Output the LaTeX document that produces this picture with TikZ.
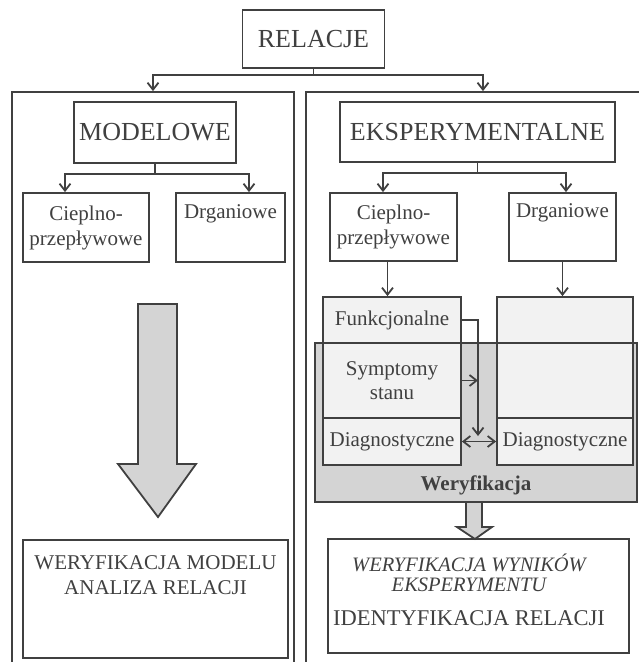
\documentclass[tikz,border=0pt]{standalone}
\usepackage{fontspec}
\setmainfont{Liberation Serif}
\usepackage{xcolor}
\usepackage{tikz}
\usetikzlibrary{arrows.meta}
\definecolor{ink}{gray}{0.25}
\definecolor{shade}{gray}{0.83}
\definecolor{pale}{gray}{0.95}

\begin{document}
\begin{tikzpicture}[x=1pt, y=-1pt, line width=1.8pt, color=ink,
    >={Straight Barb[length=7pt,width=11pt]},
    box/.style={draw, rectangle, inner sep=2pt, align=center, font=\fontsize{21}{25}\selectfont},
    big/.style={font=\fontsize{26}{30}\selectfont},
    inbox/.style={draw, rectangle, fill=pale, inner sep=2pt, align=center, font=\fontsize{21}{24}\selectfont}]
      \useasboundingbox (0,0) rectangle (639,662);

      \node (relacje) [box, big, minimum width=142pt, minimum height=58pt] at (313.5,39) {RELACJE};
      \node (lpanel) [draw, rectangle, minimum width=282pt, minimum height=574pt] at (153,379) {};
      \node (rpanel) [draw, rectangle, minimum width=339pt, minimum height=574pt] at (475.5,379) {};

      % modelowe side
      \node (modelowe) [box, big, minimum width=162pt, minimum height=61pt] at (155,132.5) {MODELOWE};
      \node (cieplL) [box, minimum width=126pt, minimum height=69pt] at (86,227.5) {Cieplno-\\przepływowe};
      \node (drganL) [box, minimum width=109pt, minimum height=69pt] at (230.5,227.5) {Drganiowe\\\strut};
      \draw[fill=shade] (138,304) -- (177,304) -- (177,464) -- (196,464) -- (158,517) -- (118,464) -- (138,464) -- cycle;
      \node (modbox) [draw, rectangle, minimum width=265pt, minimum height=118pt] at (155.5,599) {};
      \node (modtxt) [align=center, font=\fontsize{21}{25}\selectfont] at (155.5,575.5) {WERYFIKACJA MODELU\\ANALIZA RELACJI};

      % eksperymentalne side
      \node (ekspery) [box, big, minimum width=275pt, minimum height=60pt] at (477.5,132) {EKSPERYMENTALNE};
      \node (cieplR) [box, minimum width=127pt, minimum height=68pt] at (393.5,227) {Cieplno-\\przepływowe};
      \node (drganR) [box, minimum width=107pt, minimum height=68pt] at (562.5,227) {Drganiowe\\\strut};

      \node (weryf) [draw, rectangle, fill=shade, minimum width=322pt, minimum height=159pt] at (476,422.5) {};
      \node (weryftxt) [font=\fontsize{21}{25}\selectfont\bfseries] at (476,485) {Weryfikacja};
      \node (funk) [inbox, minimum width=138pt, minimum height=46pt] at (392,320) {Funkcjonalne};
      \node (sympt) [inbox, minimum width=138pt, minimum height=75pt] at (392,380.5) {Symptomy\\stanu};
      \node (diagL) [inbox, minimum width=138pt, minimum height=47pt] at (392,441.5) {Diagnostyczne};
      \node (rtop) [inbox, minimum width=136pt, minimum height=46pt] at (565,320) {};
      \node (rmid) [inbox, minimum width=136pt, minimum height=75pt] at (565,380.5) {};
      \node (diagR) [inbox, minimum width=136pt, minimum height=47pt] at (565,441.5) {Diagnostyczne};
      \coordinate (meet) at (478,436);

      \draw[fill=shade] (466,502) -- (482,502) -- (482,527) -- (492,527) -- (475,539) -- (457,527) -- (466,527) -- cycle;
      \node (expbox) [draw, rectangle, minimum width=301pt, minimum height=114pt] at (478.5,596) {};
      \node (exptxt) [align=center, font=\fontsize{20.5}{20}\selectfont\itshape] at (469,573) {WERYFIKACJA WYNIKÓW\\EKSPERYMENTU};
      \node (identtxt) [font=\fontsize{22.5}{26}\selectfont] at (469,618) {IDENTYFIKACJA RELACJI};

      % connectors
      \draw[->] (relacje.south) -- ++(0,6) -| (lpanel.north);
      \draw[->] (relacje.south) -- ++(0,6) -| ([xshift=7.5pt]rpanel.north);
      \draw[->] (modelowe.south) -- ++(0,10) -| ([xshift=-21pt]cieplL.north);
      \draw[->] (modelowe.south) -- ++(0,10) -| ([xshift=18.5pt]drganL.north);
      \draw[->] (ekspery.south) -- ++(0,10) -| ([xshift=-10.5pt]cieplR.north);
      \draw[->] (ekspery.south) -- ++(0,10) -| ([xshift=3.5pt]drganR.north);
      \draw[->] ([xshift=-6pt]cieplR.south) -- ([xshift=-6pt]cieplR.south |- funk.north);
      \draw[->] (drganR.south) -- (drganR.south |- rtop.north);
      \draw[->] (funk.east) -| (meet);
      \draw[->] (sympt.east) -- (sympt.east -| meet);
      \draw[<->] (diagL.east) -- (diagR.west);
\end{tikzpicture}
\end{document}
